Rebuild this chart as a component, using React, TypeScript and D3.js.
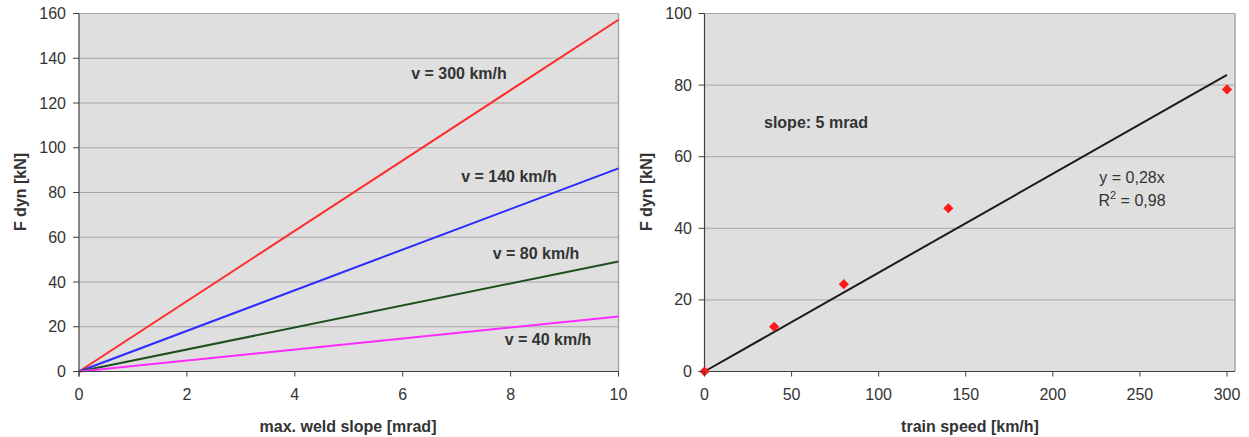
import React from "react";
import * as d3 from "d3";

const slopeTicks = [0, 2, 4, 6, 8, 10];
const forceTicksLeft = [0, 20, 40, 60, 80, 100, 120, 140, 160];
const speedLabels = ["v = 300 km/h", "v = 140 km/h", "v = 80 km/h", "v = 40 km/h"];
const lineColors = ["#ff2b2b", "#2b2bff", "#1f4f1f", "#ff2bff"];
// Force at 10 mrad for each speed (lines through origin)
const forceAt10 = [157.2, 90.8, 49.2, 24.6];

const speeds = [0, 40, 80, 140, 300];
const measuredForce = [0, 12.5, 24.4, 45.6, 78.8];
const speedTicks = [0, 50, 100, 150, 200, 250, 300];
const forceTicksRight = [0, 20, 40, 60, 80, 100];

const FONT = "Arial, 'Liberation Sans', sans-serif";
const TXT = "#333333";
const BG = "#dfdfdf";
const GRID = "#a6a6a6";
const AXIS = "#404040";

export default function App() {
  // Left chart scales
  const xL = d3.scaleLinear().domain([0, 10]).range([79, 618.5]);
  const yL = d3.scaleLinear().domain([0, 160]).range([371.5, 13.5]);
  // Right chart scales
  const xR = d3.scaleLinear().domain([0, 300]).range([704.5, 1227]);
  const yR = d3.scaleLinear().domain([0, 100]).range([371.5, 13.5]);
  const rightEdge = 1235;

  // least-squares slope through origin
  const sxy = d3.sum(speeds.map((s, i) => s * measuredForce[i]));
  const sxx = d3.sum(speeds.map((s) => s * s));
  const k = sxy / sxx;
  const trend = d3.line<number>().x((s) => xR(s)).y((s) => yR(k * s));

  const labelPos = [
    { x: 459, y: 79 },
    { x: 509, y: 182 },
    { x: 536, y: 259 },
    { x: 548, y: 345 },
  ];

  const diamond = d3.symbol().type(d3.symbolSquare).size(52)();

  return (
    <svg
      width={1249}
      height={437}
      style={{ position: "absolute", left: 0, top: 0, background: "#fff" }}
      fontFamily={FONT}
    >
      {/* LEFT CHART */}
      <rect x={xL(0)} y={yL(160)} width={xL(10) - xL(0)} height={yL(0) - yL(160)} fill={BG} />
      {forceTicksLeft.map((t) => (
        <line key={"gl" + t} x1={xL(0)} x2={xL(10)} y1={yL(t)} y2={yL(t)} stroke={GRID} strokeWidth={1} />
      ))}
      <line x1={xL(10)} x2={xL(10)} y1={yL(160)} y2={yL(0)} stroke={GRID} strokeWidth={1.5} />
      {forceAt10.map((f, i) => (
        <line
          key={"ln" + i}
          x1={xL(0)}
          y1={yL(0)}
          x2={xL(10)}
          y2={yL(f)}
          stroke={lineColors[i]}
          strokeWidth={2}
        />
      ))}
      {speedLabels.map((s, i) => (
        <text
          key={"lb" + i}
          x={labelPos[i].x}
          y={labelPos[i].y}
          textAnchor="middle"
          fontSize={16}
          fontWeight="bold"
          fill={TXT}
        >
          {s}
        </text>
      ))}
      <line x1={xL(0)} x2={xL(0)} y1={yL(160)} y2={yL(0) + 5} stroke={AXIS} strokeWidth={1.2} />
      <line x1={xL(0) - 6} x2={xL(10)} y1={yL(0)} y2={yL(0)} stroke={AXIS} strokeWidth={1.2} />
      {forceTicksLeft.map((t) => (
        <g key={"tl" + t}>
          <line x1={xL(0) - 6} x2={xL(0)} y1={yL(t)} y2={yL(t)} stroke={AXIS} strokeWidth={1} />
          <text x={66} y={yL(t) + 5.5} textAnchor="end" fontSize={16} fill={TXT}>
            {t}
          </text>
        </g>
      ))}
      {slopeTicks.map((t) => (
        <g key={"tx" + t}>
          <line x1={xL(t)} x2={xL(t)} y1={yL(0)} y2={yL(0) + 5} stroke={AXIS} strokeWidth={1} />
          <text x={xL(t)} y={400} textAnchor="middle" fontSize={16} fill={TXT}>
            {t}
          </text>
        </g>
      ))}
      <text x={348} y={432} textAnchor="middle" fontSize={16} fontWeight="bold" fill={TXT}>
        max. weld slope [mrad]
      </text>
      <text
        transform={`translate(26,192) rotate(-90)`}
        textAnchor="middle"
        fontSize={16}
        fontWeight="bold"
        fill={TXT}
      >
        F dyn [kN]
      </text>

      {/* RIGHT CHART */}
      <rect x={xR(0)} y={yR(100)} width={rightEdge - xR(0)} height={yR(0) - yR(100)} fill={BG} />
      {forceTicksRight.map((t) => (
        <line key={"gr" + t} x1={xR(0)} x2={rightEdge} y1={yR(t)} y2={yR(t)} stroke={GRID} strokeWidth={1} />
      ))}
      <line x1={rightEdge} x2={rightEdge} y1={yR(100)} y2={yR(0)} stroke={GRID} strokeWidth={1.5} />
      <path d={trend([0, 300]) || ""} fill="none" stroke="#1a1a1a" strokeWidth={2} />
      <line x1={xR(0)} x2={xR(0)} y1={yR(100)} y2={yR(0)} stroke={AXIS} strokeWidth={1.2} />
      <line x1={xR(0) - 6} x2={rightEdge} y1={yR(0)} y2={yR(0)} stroke={AXIS} strokeWidth={1.2} />
      {speeds.map((s, i) => (
        <path
          key={"pt" + i}
          d={diamond || ""}
          transform={`translate(${xR(s)},${yR(measuredForce[i])}) rotate(45)`}
          fill="#ff1a1a"
        />
      ))}
      {forceTicksRight.map((t) => (
        <g key={"tr" + t}>
          <line x1={xR(0) - 6} x2={xR(0)} y1={yR(t)} y2={yR(t)} stroke={AXIS} strokeWidth={1} />
          <text x={692} y={yR(t) + 5.5} textAnchor="end" fontSize={16} fill={TXT}>
            {t}
          </text>
        </g>
      ))}
      {speedTicks.map((t) => (
        <g key={"ts" + t}>
          <line x1={xR(t)} x2={xR(t)} y1={yR(0)} y2={yR(0) + 5} stroke={AXIS} strokeWidth={1} />
          <text x={xR(t)} y={400} textAnchor="middle" fontSize={16} fill={TXT}>
            {t}
          </text>
        </g>
      ))}
      <text x={970} y={432} textAnchor="middle" fontSize={16} fontWeight="bold" fill={TXT}>
        train speed [km/h]
      </text>
      <text
        transform={`translate(652,192) rotate(-90)`}
        textAnchor="middle"
        fontSize={16}
        fontWeight="bold"
        fill={TXT}
      >
        F dyn [kN]
      </text>
      <text x={764} y={128} fontSize={16} fontWeight="bold" fill={TXT}>
        slope: 5 mrad
      </text>
      <text x={1132} y={183} textAnchor="middle" fontSize={16} fill={TXT}>
        y = 0,28x
      </text>
      <text x={1132} y={206} textAnchor="middle" fontSize={16} fill={TXT}>
        R<tspan dy={-7} fontSize={11}>2</tspan>
        <tspan dy={7}> = 0,98</tspan>
      </text>
    </svg>
  );
}
